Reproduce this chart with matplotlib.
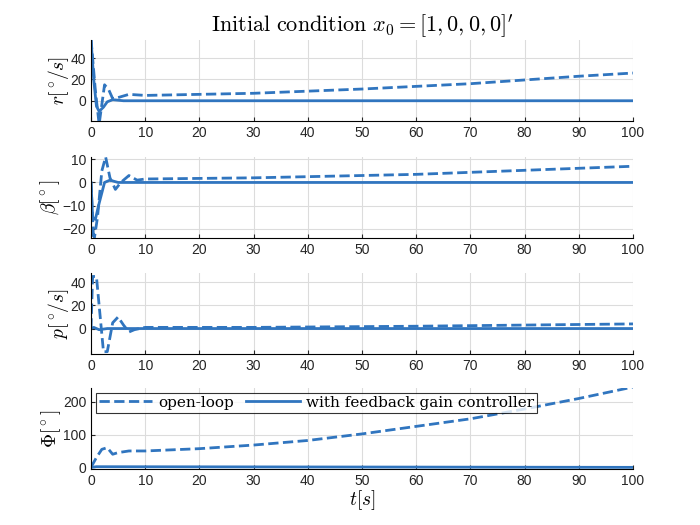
import matplotlib
matplotlib.use("Agg")
import matplotlib.pyplot as plt
import numpy as np

plt.rcParams['mathtext.fontset'] = 'cm'
plt.rcParams['font.family'] = ['Liberation Sans', 'DejaVu Sans']

# open-loop (t, value) and feedback (t, value) traces
r_ol_t = [0, 0.8, 1.5, 2.5, 3.3, 4, 5, 7, 10, 30, 50, 70, 90, 100]
r_ol_v = [58, 10, -22, 15, 10, 2, 3, 6, 5, 7, 11, 16, 23, 26]
r_cl_t = [0, 0.5, 1, 1.5, 2.3, 3, 4, 6, 100]
r_cl_v = [58, 20, -5, -10, -6, -1, 1, 0, 0]

b_ol_t = [0, 0.5, 1.2, 2, 2.7, 3.5, 4.5, 5.5, 7, 8.5, 10, 30, 60, 100]
b_ol_v = [0, -26, -15, 5, 11, 2, -3, 0, 3, 1, 1.5, 2, 3.5, 7]
b_cl_t = [0, 0.3, 0.8, 1.5, 2.5, 3.5, 5, 100]
b_cl_v = [0, -15, -16, -9, 0, 1, 0, 0]

p_ol_t = [0, 0.3, 1, 1.7, 2.3, 3, 4, 5, 6, 7, 8, 10, 30, 60, 100]
p_ol_v = [0, 45, 45, 10, -20, -20, 5, 10, 3, -3, -1, 1, 1, 2, 4]
p_cl_t = [0, 0.5, 1.5, 3, 100]
p_cl_v = [0, 1, -1, 0, 0]

f_ol_t = [0, 1, 2, 3, 4, 5, 7, 10, 20, 30, 40, 50, 60, 70, 80, 90, 100]
f_ol_v = [0, 30, 55, 60, 40, 45, 50, 50, 57, 68, 82, 102, 125, 148, 178, 210, 245]
f_cl_t = [0, 1, 100]
f_cl_v = [0, 2, 0]

col = (0.19, 0.46, 0.75)
fig = plt.figure(figsize=(7, 5.25), dpi=100)

panels = [
    (r_ol_t, r_ol_v, r_cl_t, r_cl_v, (-19, 57), [0, 20, 40], r'$r[^\circ\!/s]$', 40),
    (b_ol_t, b_ol_v, b_cl_t, b_cl_v, (-24, 11), [-20, -10, 0, 10], r'$\beta[^\circ]$', 157),
    (p_ol_t, p_ol_v, p_cl_t, p_cl_v, (-22, 48), [0, 20, 40], r'$p[^\circ\!/s]$', 273),
    (f_ol_t, f_ol_v, f_cl_t, f_cl_v, (-5, 242), [0, 100, 200], r'$\Phi[^\circ]$', 388),
]
axes = []
for olt, olv, clt, clv, yl, yt, lab, top in panels:
    ax = fig.add_axes([91/700, 1 - (top + 81)/525, 542/700, 81/525])
    ax.plot(olt, olv, '--', color=col, lw=2, label='open-loop')
    ax.plot(clt, clv, '-', color=col, lw=2, label='with feedback gain controller')
    ax.set_xlim(0, 100)
    ax.set_ylim(*yl)
    ax.set_yticks(yt)
    ax.set_xticks(range(0, 101, 10))
    ax.grid(True, color='#dcdcdc', lw=0.8)
    ax.set_axisbelow(True)
    ax.set_ylabel(lab, fontsize=14, labelpad=0)
    ax.tick_params(labelsize=10, colors='#262626', direction='in', length=3)
    for s in ['top', 'right']:
        ax.spines[s].set_visible(False)
    axes.append(ax)

axes[0].set_title(r'$\mathrm{Initial\ condition}\ x_0=[1,0,0,0]^\prime$', fontsize=16)
axes[3].set_xlabel(r'$t[s]$', fontsize=14, labelpad=0)
leg = axes[3].legend(loc='upper left', ncol=2, fancybox=False, edgecolor='black',
                     prop={'family': 'DejaVu Serif', 'size': 11}, handlelength=3.5,
                     borderaxespad=0.3, columnspacing=0.8, handletextpad=0.4,
                     borderpad=0.2)
leg.get_frame().set_linewidth(0.8)
fig.savefig('out.png', dpi=100)
